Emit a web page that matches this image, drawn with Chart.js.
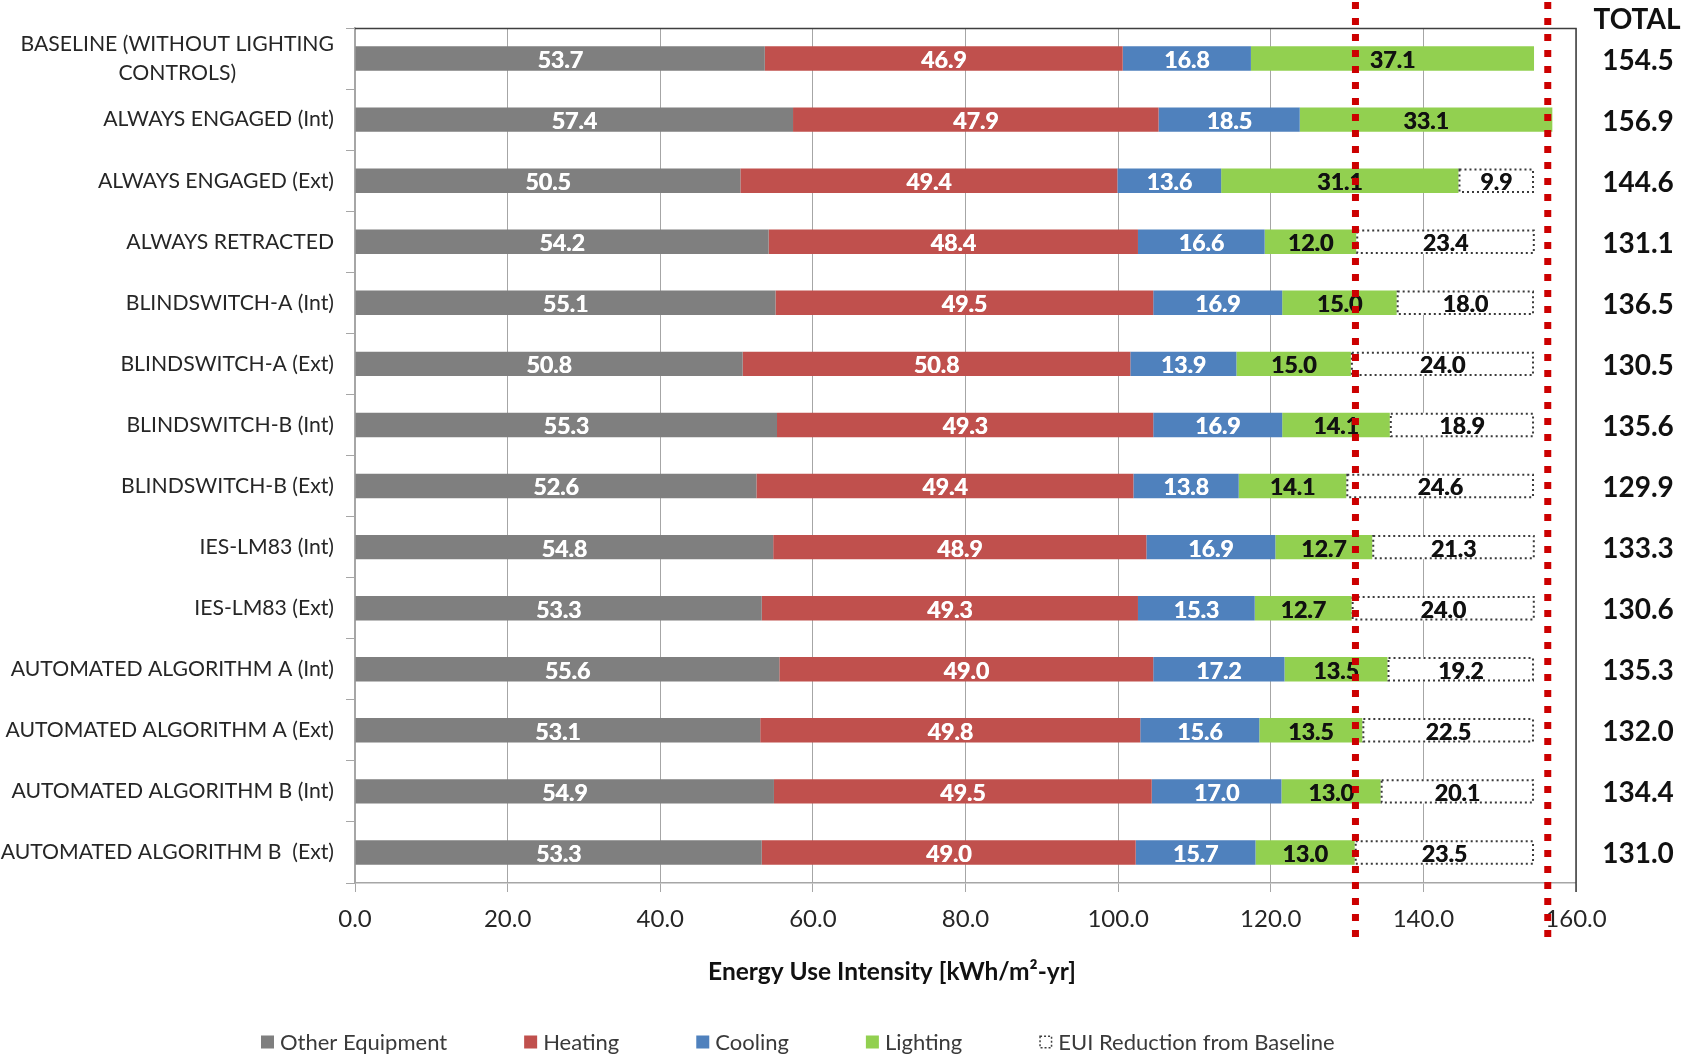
<!DOCTYPE html>
<html>
<head>
<meta charset="utf-8">
<script src="https://cdn.jsdelivr.net/npm/chart.js@4.4.1/dist/chart.umd.min.js"></script>
<style>
  html, body { margin: 0; padding: 0; background: #ffffff; }
  #wrap { width: 1684px; height: 1055px; position: relative; }
</style>
</head>
<body>
<div id="wrap"><canvas id="eui" width="1684" height="1055"></canvas></div>
<script>
// Scenario names (one row per scenario, top to bottom)
const categories = [
  ["BASELINE (WITHOUT LIGHTING", "CONTROLS)"],
  "ALWAYS ENGAGED (Int)",
  "ALWAYS ENGAGED (Ext)",
  "ALWAYS RETRACTED",
  "BLINDSWITCH-A (Int)",
  "BLINDSWITCH-A (Ext)",
  "BLINDSWITCH-B (Int)",
  "BLINDSWITCH-B (Ext)",
  "IES-LM83 (Int)",
  "IES-LM83 (Ext)",
  "AUTOMATED ALGORITHM A (Int)",
  "AUTOMATED ALGORITHM A (Ext)",
  "AUTOMATED ALGORITHM B (Int)",
  "AUTOMATED ALGORITHM B  (Ext)"
];

// End-use energy intensity, kWh/m²-yr
const otherEquipment = [53.7, 57.4, 50.5, 54.2, 55.1, 50.8, 55.3, 52.6, 54.8, 53.3, 55.6, 53.1, 54.9, 53.3];
const heating        = [46.9, 47.9, 49.4, 48.4, 49.5, 50.8, 49.3, 49.4, 48.9, 49.3, 49.0, 49.8, 49.5, 49.0];
const cooling        = [16.8, 18.5, 13.6, 16.6, 16.9, 13.9, 16.9, 13.8, 16.9, 15.3, 17.2, 15.6, 17.0, 15.7];
const lighting       = [37.1, 33.1, 31.1, 12.0, 15.0, 15.0, 14.1, 14.1, 12.7, 12.7, 13.5, 13.5, 13.0, 13.0];
const euiReduction   = [null, null, 9.9, 23.4, 18.0, 24.0, 18.9, 24.6, 21.3, 24.0, 19.2, 22.5, 20.1, 23.5];
const totals         = [154.5, 156.9, 144.6, 131.1, 136.5, 130.5, 135.6, 129.9, 133.3, 130.6, 135.3, 132.0, 134.4, 131.0];

// Axis ticks and the two reference markers (kWh/m²-yr)
const xTicks = [0, 20, 40, 60, 80, 100, 120, 140, 160];
const markerLines = [131.1, 156.3];
const xTitle = "Energy Use Intensity [kWh/m²-yr]";

const FONT = "Lato, 'Open Sans', 'Liberation Sans', sans-serif";
const TEXT = "#262626";

const series = [
  { label: "Other Equipment", data: otherEquipment, color: "#7f7f7f", text: "#ffffff" },
  { label: "Heating",         data: heating,        color: "#c0504d", text: "#ffffff" },
  { label: "Cooling",         data: cooling,        color: "#4f81bd", text: "#ffffff" },
  { label: "Lighting",        data: lighting,       color: "#92d050", text: "#111111" },
  { label: "EUI Reduction from Baseline", data: euiReduction, color: "#ffffff", text: "#111111", dotted: true }
];

// Dotted outline around the reduction segments
const dottedBoxes = {
  id: "dottedBoxes",
  afterDatasetsDraw(chart) {
    const ctx = chart.ctx;
    chart.data.datasets.forEach((ds, i) => {
      if (!ds.dotted) return;
      const meta = chart.getDatasetMeta(i);
      meta.data.forEach((el, j) => {
        if (ds.data[j] == null) return;
        const x0 = Math.min(el.x, el.base), x1 = Math.max(el.x, el.base);
        const y0 = el.y - el.height / 2;
        ctx.save();
        ctx.strokeStyle = "#3a3a3a";
        ctx.lineWidth = 2;
        ctx.setLineDash([2, 3]);
        ctx.strokeRect(x0 + 1, y0 + 1, x1 - x0 - 2, el.height - 2);
        ctx.restore();
      });
    });
  }
};

// Segment values written in the middle of each segment
const segmentLabels = {
  id: "segmentLabels",
  afterDatasetsDraw(chart) {
    const ctx = chart.ctx;
    ctx.save();
    ctx.font = "bold 23px " + FONT;
    ctx.textAlign = "center";
    ctx.textBaseline = "middle";
    chart.data.datasets.forEach((ds, i) => {
      const meta = chart.getDatasetMeta(i);
      meta.data.forEach((el, j) => {
        const v = ds.data[j];
        if (v == null) return;
        const cx = (el.x + el.base) / 2;
        ctx.fillStyle = ds.textColor;
        ctx.fillText(v.toFixed(1), cx, el.y + 2);
        ctx.fillText(v.toFixed(1), cx + 0.6, el.y + 2);
      });
    });
    ctx.restore();
  }
};

// Category names, right-aligned; wrapped names are centred within their block
const rowLabels = {
  id: "rowLabels",
  afterDraw(chart) {
    const ctx = chart.ctx;
    const yScale = chart.scales.y;
    const right = chart.chartArea.left - 21;
    const lh = 29;
    ctx.save();
    ctx.font = "21.2px " + FONT;
    ctx.fillStyle = TEXT;
    ctx.textBaseline = "middle";
    ctx.textAlign = "center";
    chart.data.labels.forEach((lab, i) => {
      const lines = Array.isArray(lab) ? lab : [lab];
      const w = Math.max(...lines.map(l => ctx.measureText(l).width));
      const cy = yScale.getPixelForValue(i);
      lines.forEach((l, k) => {
        const y = cy + (k - (lines.length - 1) / 2) * lh;
        ctx.fillText(l, right - w / 2, y);
      });
    });
    ctx.restore();
  }
};

// Frame, totals column, axis title, marker lines and legend
const extras = {
  id: "extras",
  afterDraw(chart) {
    const ctx = chart.ctx;
    const { left, right, top, bottom } = chart.chartArea;
    const xScale = chart.scales.x, yScale = chart.scales.y;

    // top and right frame
    ctx.save();
    ctx.strokeStyle = "#3f3f3f";
    ctx.lineWidth = 1.5;
    ctx.beginPath();
    ctx.moveTo(left, top + 0.5);
    ctx.lineTo(right, top + 0.5);
    ctx.lineTo(right, bottom + 9);
    ctx.stroke();
    ctx.restore();

    // totals
    ctx.save();
    ctx.fillStyle = "#111111";
    ctx.textAlign = "center";
    ctx.textBaseline = "middle";
    ctx.font = "bold 28px " + FONT;
    ctx.fillText("TOTAL", right + 61, 20);
    totals.forEach((t, i) => {
      ctx.fillText(t.toFixed(1), right + 62, yScale.getPixelForValue(i) + 2);
    });
    ctx.restore();

    // axis title
    ctx.save();
    ctx.fillStyle = "#111111";
    ctx.textAlign = "center";
    ctx.textBaseline = "middle";
    ctx.font = "bold 24.5px " + FONT;
    ctx.fillText(xTitle, 892, bottom + 89);
    ctx.restore();

    // dotted red marker lines
    ctx.save();
    ctx.strokeStyle = "#cc0000";
    ctx.lineWidth = 7;
    ctx.setLineDash([7, 9]);
    markerLines.forEach(v => {
      const x = xScale.getPixelForValue(v);
      ctx.beginPath();
      ctx.moveTo(x, 2);
      ctx.lineTo(x, bottom + 56);
      ctx.stroke();
    });
    ctx.restore();

    // legend
    ctx.save();
    ctx.font = "22px " + FONT;
    ctx.textBaseline = "middle";
    ctx.textAlign = "left";
    let x = 261;
    const y = 1042, box = 13, gap = 6, spacing = 77;
    chart.data.datasets.forEach(ds => {
      if (ds.dotted) {
        ctx.fillStyle = "#ffffff";
        ctx.fillRect(x, y - box / 2, box, box);
        ctx.strokeStyle = "#404040";
        ctx.lineWidth = 1.5;
        ctx.setLineDash([2, 2]);
        ctx.strokeRect(x + 0.75, y - box / 2 + 0.75, box - 1.5, box - 1.5);
        ctx.setLineDash([]);
      } else {
        ctx.fillStyle = ds.backgroundColor;
        ctx.fillRect(x, y - box / 2, box, box);
      }
      ctx.fillStyle = "#3a3a3a";
      ctx.fillText(ds.label, x + box + gap, y + 1);
      x += box + gap + ctx.measureText(ds.label).width + spacing;
    });
    ctx.restore();
  }
};

new Chart(document.getElementById("eui"), {
  type: "bar",
  data: {
    labels: categories,
    datasets: series.map(s => ({
      label: s.label,
      data: s.data,
      backgroundColor: s.color,
      borderWidth: 0,
      textColor: s.text,
      dotted: !!s.dotted,
      barPercentage: 0.4,
      categoryPercentage: 1.0
    }))
  },
  options: {
    indexAxis: "y",
    responsive: false,
    animation: false,
    devicePixelRatio: 1,
    layout: { padding: { top: 28, right: 108, bottom: 50, left: 0 } },
    plugins: { legend: { display: false }, tooltip: { enabled: false } },
    scales: {
      x: {
        stacked: true,
        min: xTicks[0],
        max: xTicks[xTicks.length - 1],
        afterBuildTicks(scale) { scale.ticks = xTicks.map(v => ({ value: v })); },
        afterFit(scale) { scale.height = 122; },
        ticks: {
          callback: v => Number(v).toFixed(1),
          font: { family: FONT, size: 24 },
          color: TEXT,
          padding: 13,
          maxRotation: 0
        },
        grid: { color: "#a6a6a6", lineWidth: 1, tickLength: 9, drawTicks: true },
        border: { color: "#a6a6a6", width: 1.5 }
      },
      y: {
        stacked: true,
        ticks: { display: false },
        afterFit(scale) { scale.width = 355; },
        grid: { drawOnChartArea: false, drawTicks: true, tickLength: 9, color: "#a6a6a6", offset: true },
        border: { color: "#a6a6a6", width: 1.5 }
      }
    }
  },
  plugins: [dottedBoxes, segmentLabels, rowLabels, extras]
});
</script>
</body>
</html>
